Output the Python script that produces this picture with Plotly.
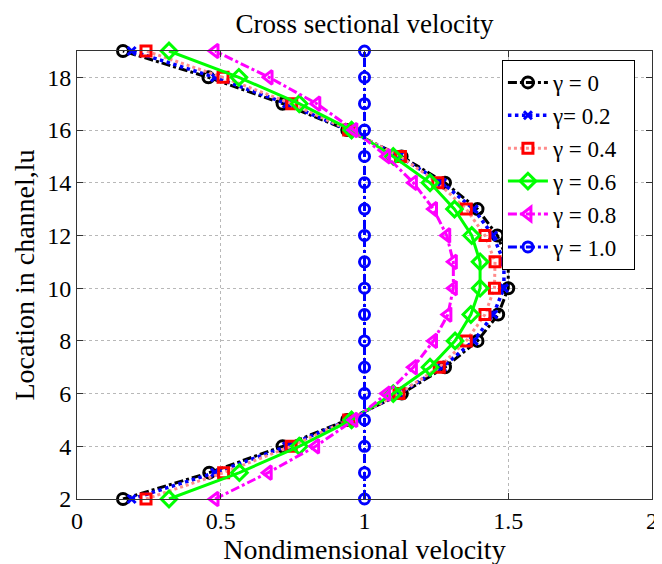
import plotly.graph_objects as go

y_loc = list(range(2, 20))

v_g00 = [0.16, 0.46, 0.715, 0.94, 1.13, 1.28, 1.393, 1.465, 1.50, 1.50, 1.462, 1.393, 1.28, 1.129, 0.94, 0.715, 0.457, 0.16]
v_g02 = [0.19, 0.48, 0.73, 0.945, 1.12, 1.27, 1.38, 1.448, 1.485, 1.485, 1.447, 1.38, 1.27, 1.12, 0.945, 0.73, 0.48, 0.19]
v_g04 = [0.24, 0.51, 0.745, 0.945, 1.12, 1.26, 1.354, 1.419, 1.452, 1.454, 1.419, 1.354, 1.255, 1.125, 0.945, 0.747, 0.508, 0.24]
v_g06 = [0.32, 0.565, 0.773, 0.955, 1.10, 1.228, 1.315, 1.37, 1.402, 1.402, 1.373, 1.313, 1.228, 1.10, 0.955, 0.773, 0.563, 0.32]
v_g08 = [0.48, 0.665, 0.83, 0.963, 1.077, 1.17, 1.24, 1.29, 1.309, 1.309, 1.286, 1.24, 1.17, 1.077, 0.963, 0.834, 0.668, 0.48]
v_g10 = [1.0] * 18

names = ["γ = 0", "γ= 0.2", "γ = 0.4", "γ = 0.6", "γ = 0.8", "γ = 1.0"]
x_ticks = [0, 0.5, 1, 1.5, 2]
y_ticks = [2, 4, 6, 8, 10, 12, 14, 16, 18]

styles = [
    (v_g00, dict(color="black", dash="dashdot", width=3), dict(symbol="circle-open", size=11, color="black", line=dict(width=3))),
    (v_g02, dict(color="blue", dash="dot", width=3.5), dict(symbol="x-thin-open", size=8, color="blue", line=dict(width=3))),
    (v_g04, dict(color="#ff8c8c", dash="dot", width=3), dict(symbol="square-open", size=10, color="red", line=dict(width=3))),
    (v_g06, dict(color="#00ff00", dash="solid", width=3), dict(symbol="diamond-open", size=12, color="#00ff00", line=dict(width=3))),
    (v_g08, dict(color="magenta", dash="dashdot", width=3), dict(symbol="triangle-left-open", size=12, color="magenta", line=dict(width=3))),
    (v_g10, dict(color="blue", dash="dashdot", width=3), dict(symbol="circle-open", size=10, color="blue", line=dict(width=3))),
]

fig = go.Figure()
for name, (vals, ln, mk) in zip(names, styles):
    fig.add_trace(go.Scatter(x=vals, y=y_loc, mode="lines+markers", name=name + "\u00a0\u00a0",
                             line=ln, marker=mk, cliponaxis=False))

font = "Liberation Serif, Times New Roman, serif"
axis_common = dict(showline=True, linecolor="#333", linewidth=1, mirror="ticks",
                   ticks="inside", ticklen=6, tickcolor="#333",
                   showgrid=True, gridcolor="#b8b8b8", griddash="dot", gridwidth=1,
                   zeroline=False, tickfont=dict(family=font, size=24, color="black"))

fig.update_layout(
    width=662, height=564,
    margin=dict(l=69, r=18, t=43, b=73),
    paper_bgcolor="white", plot_bgcolor="white",
    font=dict(family=font, color="black"),
    title=dict(text="Cross sectional velocity", x=0.5, xanchor="center", xref="paper",
               y=0.972, yanchor="middle", font=dict(family=font, size=27, color="black")),
    xaxis=dict(range=[0, 2], tickvals=x_ticks, ticktext=["0", "0.5", "1", "1.5", "2"],
               title=dict(text="Nondimensional velocity", font=dict(family=font, size=28), standoff=2),
               **axis_common),
    yaxis=dict(range=[2, 19], tickvals=y_ticks,
               title=dict(text="Location in channel,lu", font=dict(family=font, size=28), standoff=4),
               **axis_common),
    legend=dict(x=0.739, y=0.98, xanchor="left", yanchor="top",
                bgcolor="white", bordercolor="black", borderwidth=1,
                font=dict(family=font, size=23, color="black"),
                tracegroupgap=0, itemwidth=40),
    showlegend=True,
)

fig.write_html("out.html")
